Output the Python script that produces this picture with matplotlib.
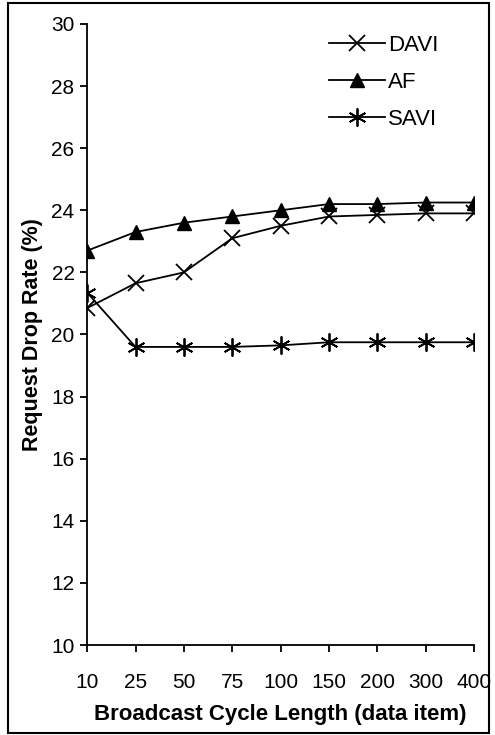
import matplotlib.pyplot as plt
from matplotlib.patches import Rectangle

plt.rcParams['font.family'] = ['Liberation Sans', 'DejaVu Sans']

# data
cycle_labels = ['10', '25', '50', '75', '100', '150', '200', '300', '400']
davi = [20.85, 21.65, 22.0, 23.1, 23.5, 23.8, 23.85, 23.9, 23.9]
af = [22.7, 23.3, 23.6, 23.8, 24.0, 24.2, 24.2, 24.25, 24.25]
savi = [21.35, 19.6, 19.6, 19.6, 19.65, 19.75, 19.75, 19.75, 19.75]

fig = plt.figure(figsize=(4.95, 7.35), dpi=100)
ax = fig.add_axes([0.176, 0.1224, 0.782, 0.845])

x = range(len(cycle_labels))
ax.plot(x, davi, color='black', lw=1.3, marker='x', ms=11, mew=1.3, label='DAVI')
ax.plot(x, af, color='black', lw=1.3, marker='^', ms=10, label='AF')
ax.plot(x, savi, color='black', lw=1.3, marker=(6, 2, 0), ms=13, mew=1.3, label='SAVI')

ax.set_xlim(0, len(cycle_labels) - 1)
ax.set_ylim(10, 30)
ax.set_xticks(list(x))
ax.set_xticklabels(cycle_labels)
ax.set_yticks(range(10, 31, 2))
ax.tick_params(direction='out', length=5, width=1.3, labelsize=15)
ax.tick_params(axis='x', pad=15)
ax.tick_params(axis='y', pad=4)
for s in ['top', 'right']:
    ax.spines[s].set_visible(False)
for s in ['left', 'bottom']:
    ax.spines[s].set_linewidth(1.3)

ax.set_xlabel('Broadcast Cycle Length (data item)', fontsize=16, fontweight='bold', labelpad=9)
ax.set_ylabel('Request Drop Rate (%)', fontsize=15.5, fontweight='bold', labelpad=6)

ax.legend(loc='upper right', bbox_to_anchor=(0.96, 1.015), frameon=False, fontsize=16,
          handlelength=2.5, labelspacing=0.72, handletextpad=0.15)

fig.patches.append(Rectangle((0.016, 0.003), 0.972, 0.993, transform=fig.transFigure,
                             fill=False, edgecolor='black', lw=1.5))

fig.savefig('out.png', dpi=100)
